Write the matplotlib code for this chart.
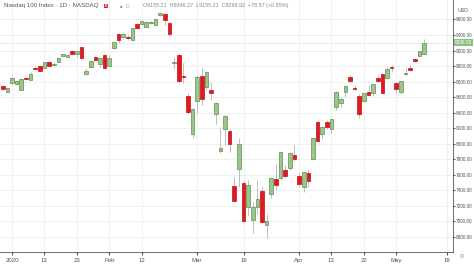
import matplotlib.pyplot as plt
import numpy as np

plt.rcParams['font.family'] = ['Liberation Sans', 'DejaVu Sans']

dates = ["2019-12-30", "2019-12-31",
         "2020-01-02", "2020-01-03", "2020-01-06", "2020-01-07", "2020-01-08", "2020-01-09", "2020-01-10",
         "2020-01-13", "2020-01-14", "2020-01-15", "2020-01-16", "2020-01-17", "2020-01-21", "2020-01-22",
         "2020-01-23", "2020-01-24", "2020-01-27", "2020-01-28", "2020-01-29", "2020-01-30", "2020-01-31",
         "2020-02-03", "2020-02-04", "2020-02-05", "2020-02-06", "2020-02-07", "2020-02-10", "2020-02-11",
         "2020-02-12", "2020-02-13", "2020-02-14", "2020-02-18", "2020-02-19", "2020-02-20", "2020-02-21",
         "2020-02-24", "2020-02-25", "2020-02-26", "2020-02-27", "2020-02-28",
         "2020-03-02", "2020-03-03", "2020-03-04", "2020-03-05", "2020-03-06", "2020-03-09", "2020-03-10",
         "2020-03-11", "2020-03-12", "2020-03-13", "2020-03-16", "2020-03-17", "2020-03-18", "2020-03-19",
         "2020-03-20", "2020-03-23", "2020-03-24", "2020-03-25", "2020-03-26", "2020-03-27", "2020-03-30",
         "2020-03-31", "2020-04-01", "2020-04-02", "2020-04-03", "2020-04-06", "2020-04-07", "2020-04-08",
         "2020-04-09", "2020-04-13", "2020-04-14", "2020-04-15", "2020-04-16", "2020-04-17", "2020-04-20",
         "2020-04-21", "2020-04-22", "2020-04-23", "2020-04-24", "2020-04-27", "2020-04-28", "2020-04-29",
         "2020-04-30", "2020-05-01", "2020-05-04", "2020-05-05", "2020-05-06", "2020-05-07", "2020-05-08",
         "2020-05-11"]

opens = [8748, 8672, 8780, 8766, 8695, 8851, 8823, 8975, 9001, 8980, 9049, 9020, 9057, 9134, 9117, 9190,
         9152, 9243, 8895, 8993, 9115, 9024, 9147, 9006, 9229, 9410, 9371, 9378, 9336, 9542, 9538, 9508,
         9560, 9529, 9654, 9671, 9559, 9035, 9143, 8872, 8619, 8126, 8550, 8873, 8727, 8693, 8383, 7907,
         8190, 8160, 7457, 7676, 7500, 7190, 7019, 7188, 7390, 6955, 7354, 7547, 7557, 7658, 7685, 7852,
         7585, 7439, 7628, 7805, 8277, 8122, 8277, 8191, 8470, 8530, 8672, 8856, 8722, 8619, 8555, 8672,
         8650, 8843, 8895, 8851, 8990, 8780, 8663, 8900, 8972, 9088, 9130, 9155.21]
highs = [8760, 8725, 8860, 8820, 8840, 8865, 8920, 8990, 9010, 9052, 9060, 9050, 9112, 9160, 9155, 9205,
         9200, 9250, 8970, 9080, 9135, 9115, 9160, 9140, 9315, 9430, 9420, 9395, 9490, 9560, 9590, 9578,
         9580, 9610, 9700, 9680, 9565, 9120, 9170, 9040, 8660, 8460, 8880, 8980, 8935, 8800, 8540, 8216,
         8365, 8190, 7577, 8071, 7520, 7540, 7255, 7540, 7450, 7100, 7570, 7740, 7900, 7730, 7890, 7980,
         7640, 7640, 7660, 8080, 8300, 8225, 8300, 8325, 8680, 8600, 8760, 8880, 8760, 8640, 8660, 8760,
         8770, 8870, 8910, 8990, 9010, 8790, 8815, 8980, 9030, 9110, 9200, 9346.27]
lows = [8690, 8665, 8770, 8755, 8690, 8820, 8815, 8950, 8935, 8975, 8998, 9000, 9050, 9125, 9110, 9155,
        9120, 9080, 8885, 8980, 9070, 8990, 8955, 9000, 9220, 9300, 9350, 9340, 9330, 9480, 9535, 9500,
        9545, 9520, 9645, 9530, 9390, 8960, 8790, 8780, 8380, 8070, 8400, 8500, 8690, 8560, 8250, 7882,
        7980, 7900, 7260, 7440, 6990, 7080, 6848, 7100, 6980, 6787, 7300, 7400, 7530, 7560, 7660, 7780,
        7450, 7380, 7440, 7790, 8030, 8060, 8190, 8140, 8440, 8480, 8600, 8790, 8690, 8330, 8540, 8610,
        8620, 8790, 8640, 8840, 8930, 8660, 8640, 8880, 8940, 9050, 9120, 9155.21]
closes = [8700, 8718, 8851, 8808, 8834, 8830, 8899, 8962, 8943, 9049, 9005, 9030, 9110, 9152, 9147, 9160,
          9195, 9101, 8938, 9071, 9079, 9110, 8971, 9106, 9306, 9336, 9414, 9368, 9487, 9487, 9581, 9572,
          9572, 9602, 9688, 9594, 9413, 9050, 8808, 8858, 8413, 8447, 8859, 8574, 8928, 8650, 8525, 7946,
          8362, 7998, 7268, 7994, 7010, 7470, 7183, 7287, 6997, 7010, 7560, 7474, 7891, 7581, 7878, 7805,
          7482, 7632, 7525, 8071, 8040, 8213, 8220, 8320, 8672, 8577, 8745, 8808, 8705, 8382, 8650, 8625,
          8766, 8808, 8650, 8959, 8975, 8702, 8808, 8912, 8955, 9068, 9195, 9298.92]

tick_dates = ["2020-01-02", "2020-01-13", "2020-01-23", "2020-02-03", "2020-02-12", "2020-03-02",
              "2020-03-16", "2020-04-01", "2020-04-13", "2020-04-22", "2020-05-01", "2020-05-18"]
tick_labels = ["2020", "13", "23", "Feb", "12", "Mar", "16", "Apr", "13", "22", "May", "18"]
price_ticks = [6800, 7000, 7200, 7400, 7600, 7800, 8000, 8200, 8400, 8600, 8800, 9000, 9200, 9400, 9600]

last_price = 9298.92

up_fill, up_edge = "#9dc48c", "#5e8f4d"
dn_fill, dn_edge = "#e8161f", "#b5121a"

o = np.array(opens)
c = np.array(closes)
x = np.arange(len(dates))
up = c >= o

# trading-day positions for the ticks (May 18 lies past the data)
all_days = list(dates) + ["2020-05-12", "2020-05-13", "2020-05-14", "2020-05-15", "2020-05-18"]
tick_x = [all_days.index(d) for d in tick_dates]

fig = plt.figure(figsize=(4.74, 2.64), dpi=100)
ax = fig.add_axes([0, 12 / 264, 453 / 474, 252 / 264])

ax.vlines(x, lows, highs, color="#b4b4b4", lw=0.6, zorder=2)
body_bot = np.minimum(o, c)
body_h = np.maximum(np.abs(c - o), 8)
ax.bar(x[up], body_h[up], bottom=body_bot[up], width=0.78, color=up_fill,
       edgecolor=up_edge, linewidth=0.5, zorder=3)
ax.bar(x[~up], body_h[~up], bottom=body_bot[~up], width=0.78, color=dn_fill,
       edgecolor=dn_edge, linewidth=0.5, zorder=3)

ax.set_xlim(-0.6, 97.25)
ax.set_ylim(6607, 9851)

ax.set_xticks(tick_x)
ax.set_xticklabels(tick_labels)
ax.set_yticks(price_ticks)
ax.set_yticklabels([f"{p:.2f}" for p in price_ticks])
ax.yaxis.tick_right()
ax.tick_params(axis="y", length=1.5, color="#555555", labelsize=3.4, labelcolor="#555555", pad=0.8)
ax.tick_params(axis="x", length=2, color="#555555", labelsize=4.4, labelcolor="#555555", pad=2)
ax.grid(True, color="#eeeeee", lw=0.6, zorder=0)
for s in ["top", "left"]:
    ax.spines[s].set_visible(False)
ax.spines["right"].set_color("#555555")
ax.spines["bottom"].set_color("#555555")
ax.spines["right"].set_linewidth(0.6)
ax.spines["bottom"].set_linewidth(0.6)

# last price line and label
ax.axhline(last_price, color="#c8c8c8", lw=0.5, ls=(0, (1, 1)), zorder=1)
ax.annotate(f"{last_price:.2f}", xy=(1.0, last_price), xycoords=("axes fraction", "data"),
            xytext=(1.5, 0), textcoords="offset points", va="center", ha="left",
            fontsize=3.4, color="white",
            bbox=dict(boxstyle="square,pad=0.2", fc="#8cc07a", ec="none"))

# header
fig.text(4 / 474, 1 - 6 / 264, "Nasdaq 100 Index · 1D · NASDAQ", fontsize=4.4, color="#555555", va="center")
fig.text(106 / 474, 1 - 6 / 264, "E", fontsize=3.2, color="white", va="center", ha="center", weight="bold",
         bbox=dict(boxstyle="square,pad=0.1", fc="#e8161f", ec="none"))
fig.text(121 / 474, 1 - 6 / 264, "●", fontsize=3.2, color="#2a5fa0", va="center", ha="center")
fig.text(128 / 474, 1 - 6 / 264, "D", fontsize=3.8, color="#f0a020", va="center", ha="center")
fig.text(143 / 474, 1 - 6 / 264,
         "O9155.21  H9346.27  L9155.21  C9298.92  +78.57 (+0.85%)",
         fontsize=3.9, color="#7d8f77", va="center")
fig.text(463 / 474, 1 - 10 / 264, "USD", fontsize=3.8, color="#555555", va="center", ha="center")
fig.text(462 / 474, 1 - 257 / 264, "○", fontsize=5, color="#555555", va="center", ha="center")

fig.savefig("out.png", dpi=100)
